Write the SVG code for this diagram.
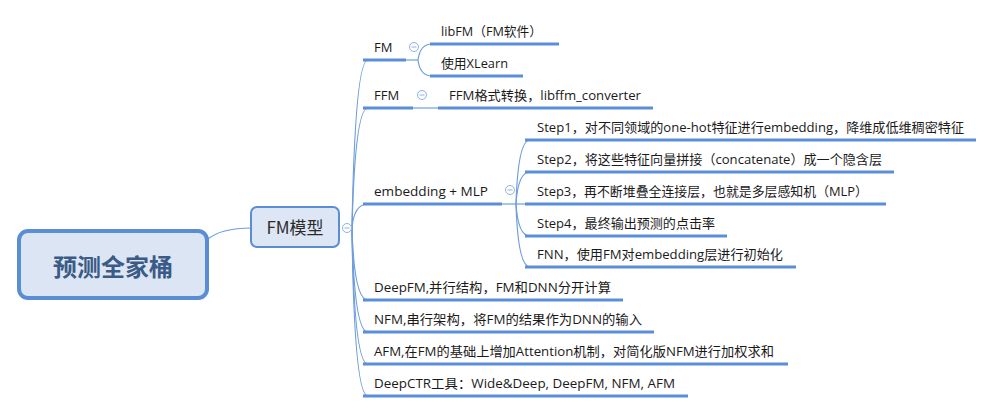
<svg xmlns="http://www.w3.org/2000/svg" width="994" height="413" viewBox="0 0 994 413">
<style>
text{font-family:"Open Sans","Noto Sans CJK SC",sans-serif;font-size:13px;fill:#1a1a1a}
.root{font-family:"Noto Sans CJK SC",sans-serif;font-size:24px;font-weight:bold;fill:#3b5b86}
.main{font-family:"Noto Sans CJK SC",sans-serif;font-size:17px;fill:#2b2b2b}
.ul{stroke:#5b8ed6;stroke-width:3;fill:none}
.cn{stroke:#6e9edc;stroke-width:1.2;fill:none}
.fold circle{fill:#fff;stroke:#8fb1e2;stroke-width:1}
.fold line{stroke:#8fb1e2;stroke-width:1}
</style>
<rect width="994" height="413" fill="#fff"/>
<g id="connectors">
<path class="cn" d="M207,240 Q220,228 252,228"/>
<path class="cn" d="M352,228 Q355,60 368,60"/>
<path class="cn" d="M352,228 Q355,108 368,108"/>
<path class="cn" d="M352,228 Q354,204 368,204"/>
<path class="cn" d="M352,228 Q354,300 368,300"/>
<path class="cn" d="M352,228 Q354,332 368,332"/>
<path class="cn" d="M352,228 Q354,364 368,364"/>
<path class="cn" d="M352,228 Q354,396 368,396"/>
<path class="cn" d="M404,60 L418,60"/>
<path class="cn" d="M418,60 Q420,44 432,44"/>
<path class="cn" d="M418,60 Q420,76 432,76"/>
<path class="cn" d="M411,108 L440,108"/>
<path class="cn" d="M500,204 L516,204"/>
<path class="cn" d="M516,204 Q518,140 530,140"/>
<path class="cn" d="M516,204 Q518,172 530,172"/>
<path class="cn" d="M516,204 L530,204"/>
<path class="cn" d="M516,204 Q518,236 530,236"/>
<path class="cn" d="M516,204 Q518,267 530,267"/>
</g>
<g id="root">
<rect x="19" y="231" width="188" height="67" rx="9" fill="#dbe5f3" stroke="#5a8dd3" stroke-width="4"/>
<text class="root" x="113" y="276" text-anchor="middle">预测全家桶</text>
</g>
<g id="fm-model">
<rect x="251" y="207" width="88" height="40" rx="6" fill="#dce6f4" stroke="#5a8dd3" stroke-width="2"/>
<text class="main" x="295" y="234" text-anchor="middle">FM模型</text>
<g class="fold"><circle cx="347" cy="228" r="4.5"/><line x1="344.5" y1="228" x2="349.5" y2="228"/></g>
</g>
<g id="fm">
<path class="ul" d="M363,60 H406"/>
<text x="374" y="52">FM</text>
<g class="fold"><circle cx="414" cy="47" r="4.5"/><line x1="411.5" y1="47" x2="416.5" y2="47"/></g>
</g>
<g id="libfm">
<path class="ul" d="M430,44 H559"/>
<text x="441" y="36" textLength="101" lengthAdjust="spacingAndGlyphs">libFM（FM软件）</text>
</g>
<g id="xlearn">
<path class="ul" d="M430,76 H523"/>
<text x="441" y="68" textLength="67" lengthAdjust="spacingAndGlyphs">使用XLearn</text>
</g>
<g id="ffm">
<path class="ul" d="M363,108 H413"/>
<text x="374" y="100">FFM</text>
<g class="fold"><circle cx="422" cy="95" r="4.5"/><line x1="419.5" y1="95" x2="424.5" y2="95"/></g>
</g>
<g id="ffm-conv">
<path class="ul" d="M438,108 H653"/>
<text x="449" y="100" textLength="192" lengthAdjust="spacingAndGlyphs">FFM格式转换，libffm_converter</text>
</g>
<g id="emb">
<path class="ul" d="M363,204 H502"/>
<text x="374" y="196" textLength="114" lengthAdjust="spacingAndGlyphs">embedding + MLP</text>
<g class="fold"><circle cx="510" cy="190" r="4.5"/><line x1="507.5" y1="190" x2="512.5" y2="190"/></g>
</g>
<g id="step1">
<path class="ul" d="M525,140 H976"/>
<text x="537" y="132" textLength="427" lengthAdjust="spacingAndGlyphs">Step1，对不同领域的one-hot特征进行embedding，降维成低维稠密特征</text>
</g>
<g id="step2">
<path class="ul" d="M525,172 H894"/>
<text x="537" y="164" textLength="345" lengthAdjust="spacingAndGlyphs">Step2，将这些特征向量拼接（concatenate）成一个隐含层</text>
</g>
<g id="step3">
<path class="ul" d="M525,204 H886"/>
<text x="537" y="196" textLength="331" lengthAdjust="spacingAndGlyphs">Step3，再不断堆叠全连接层，也就是多层感知机（MLP）</text>
</g>
<g id="step4">
<path class="ul" d="M525,236 H727"/>
<text x="537" y="228" textLength="178" lengthAdjust="spacingAndGlyphs">Step4，最终输出预测的点击率</text>
</g>
<g id="fnn">
<path class="ul" d="M525,267 H796"/>
<text x="537" y="259" textLength="246" lengthAdjust="spacingAndGlyphs">FNN，使用FM对embedding层进行初始化</text>
</g>
<g id="deepfm">
<path class="ul" d="M363,300 H623"/>
<text x="374" y="292" textLength="237" lengthAdjust="spacingAndGlyphs">DeepFM,并行结构，FM和DNN分开计算</text>
</g>
<g id="nfm">
<path class="ul" d="M363,332 H654"/>
<text x="374" y="324" textLength="268" lengthAdjust="spacingAndGlyphs">NFM,串行架构，将FM的结果作为DNN的输入</text>
</g>
<g id="afm">
<path class="ul" d="M363,364 H788"/>
<text x="374" y="356" textLength="400" lengthAdjust="spacingAndGlyphs">AFM,在FM的基础上增加Attention机制，对简化版NFM进行加权求和</text>
</g>
<g id="deepctr">
<path class="ul" d="M363,396 H688"/>
<text x="374" y="388" textLength="301" lengthAdjust="spacingAndGlyphs">DeepCTR工具：Wide&amp;Deep, DeepFM, NFM, AFM</text>
</g>
</svg>
